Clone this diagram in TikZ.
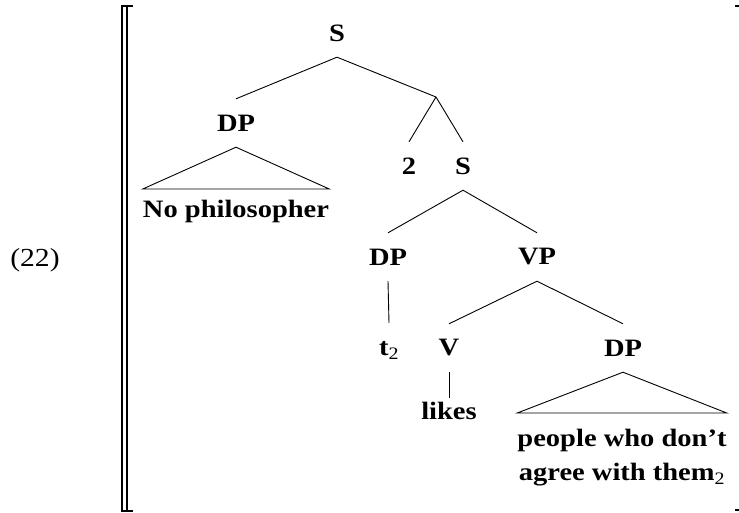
\documentclass[tikz,border=0pt]{standalone}
\usepackage{fontspec}
\setmainfont{Liberation Serif}[FakeStretch=1.14]
\usetikzlibrary{positioning}
\tikzset{
  cat/.style    = {font=\fontsize{25}{34}\selectfont\bfseries,
                   inner sep=0pt, minimum height=48pt},
  leaf/.style   = {font=\fontsize{25}{34}\selectfont\bfseries,
                   inner xsep=0pt, align=center},
  branch/.style = {draw, line width=0.9pt},
  roof/.style   = {draw, line width=0.9pt, line join=miter},
  denot/.style  = {line width=1.6pt},
  exnum/.style  = {font=\fontsize{26}{30}\selectfont},
}

\begin{document}
\begin{tikzpicture}[x=1pt, y=-1pt]
  \useasboundingbox (0,0) rectangle (739,513);

  \node[exnum] (ex) at (35,260) {(22)};

  % categories
  \node[cat] (s1)  at (337,33)  {S};
  \node[cat] (dp1) at (236,123) {DP};
  \coordinate (j1) at (436,97);
  \node[cat] (two) at (409,166) {2};
  \node[cat] (s2)  at (463,166) {S};
  \node[cat] (dp2) at (388,257) {DP};
  \node[cat] (vp)  at (537,257) {VP};
  \node[cat] (v)   at (449,348) {V};
  \node[cat] (dp3) at (623,348) {DP};

  % leaves
  \node[leaf, anchor=north, inner ysep=11pt] (subj)  at (236,189) {No philosopher};
  \node[leaf, anchor=north, inner ysep=18pt] (trace) at (389,323) {t\textsubscript{\mdseries 2}};
  \node[leaf, anchor=north, inner ysep=4pt]  (likes) at (449,398) {likes};
  \node[leaf, anchor=north, inner ysep=16pt] (obj)   at (622,413)
       {people who don't\\agree with them\textsubscript{\mdseries 2}};

  \draw[branch] (s1.south)  -- (dp1.north);
  \draw[branch] (s1.south)  -- (j1);
  \draw[branch] (j1)        -- (two.north);
  \draw[branch] (j1)        -- (s2.north);
  \draw[branch] (s2.south)  -- (dp2.north);
  \draw[branch] (s2.south)  -- (vp.north);
  \draw[branch] (dp2.south) -- (trace.north);
  \draw[branch] (vp.south)  -- (v.north);
  \draw[branch] (vp.south)  -- (dp3.north);
  \draw[branch] (v.south)   -- (likes.north);
  \draw[roof] (dp1.south) -- (subj.north west) -- (subj.north east) -- cycle;
  \draw[roof] (dp3.south) -- (obj.north west) -- (obj.north east) -- cycle;

  % denotation brackets
  \draw[denot] (133,6) -- (122,6) -- (122,511) -- (133,511);
  \draw[denot] (127,6) -- (127,511);
  \draw[denot] (735,6) -- (739,6);
  \draw[denot] (735,510) -- (739,510);
\end{tikzpicture}
\end{document}
